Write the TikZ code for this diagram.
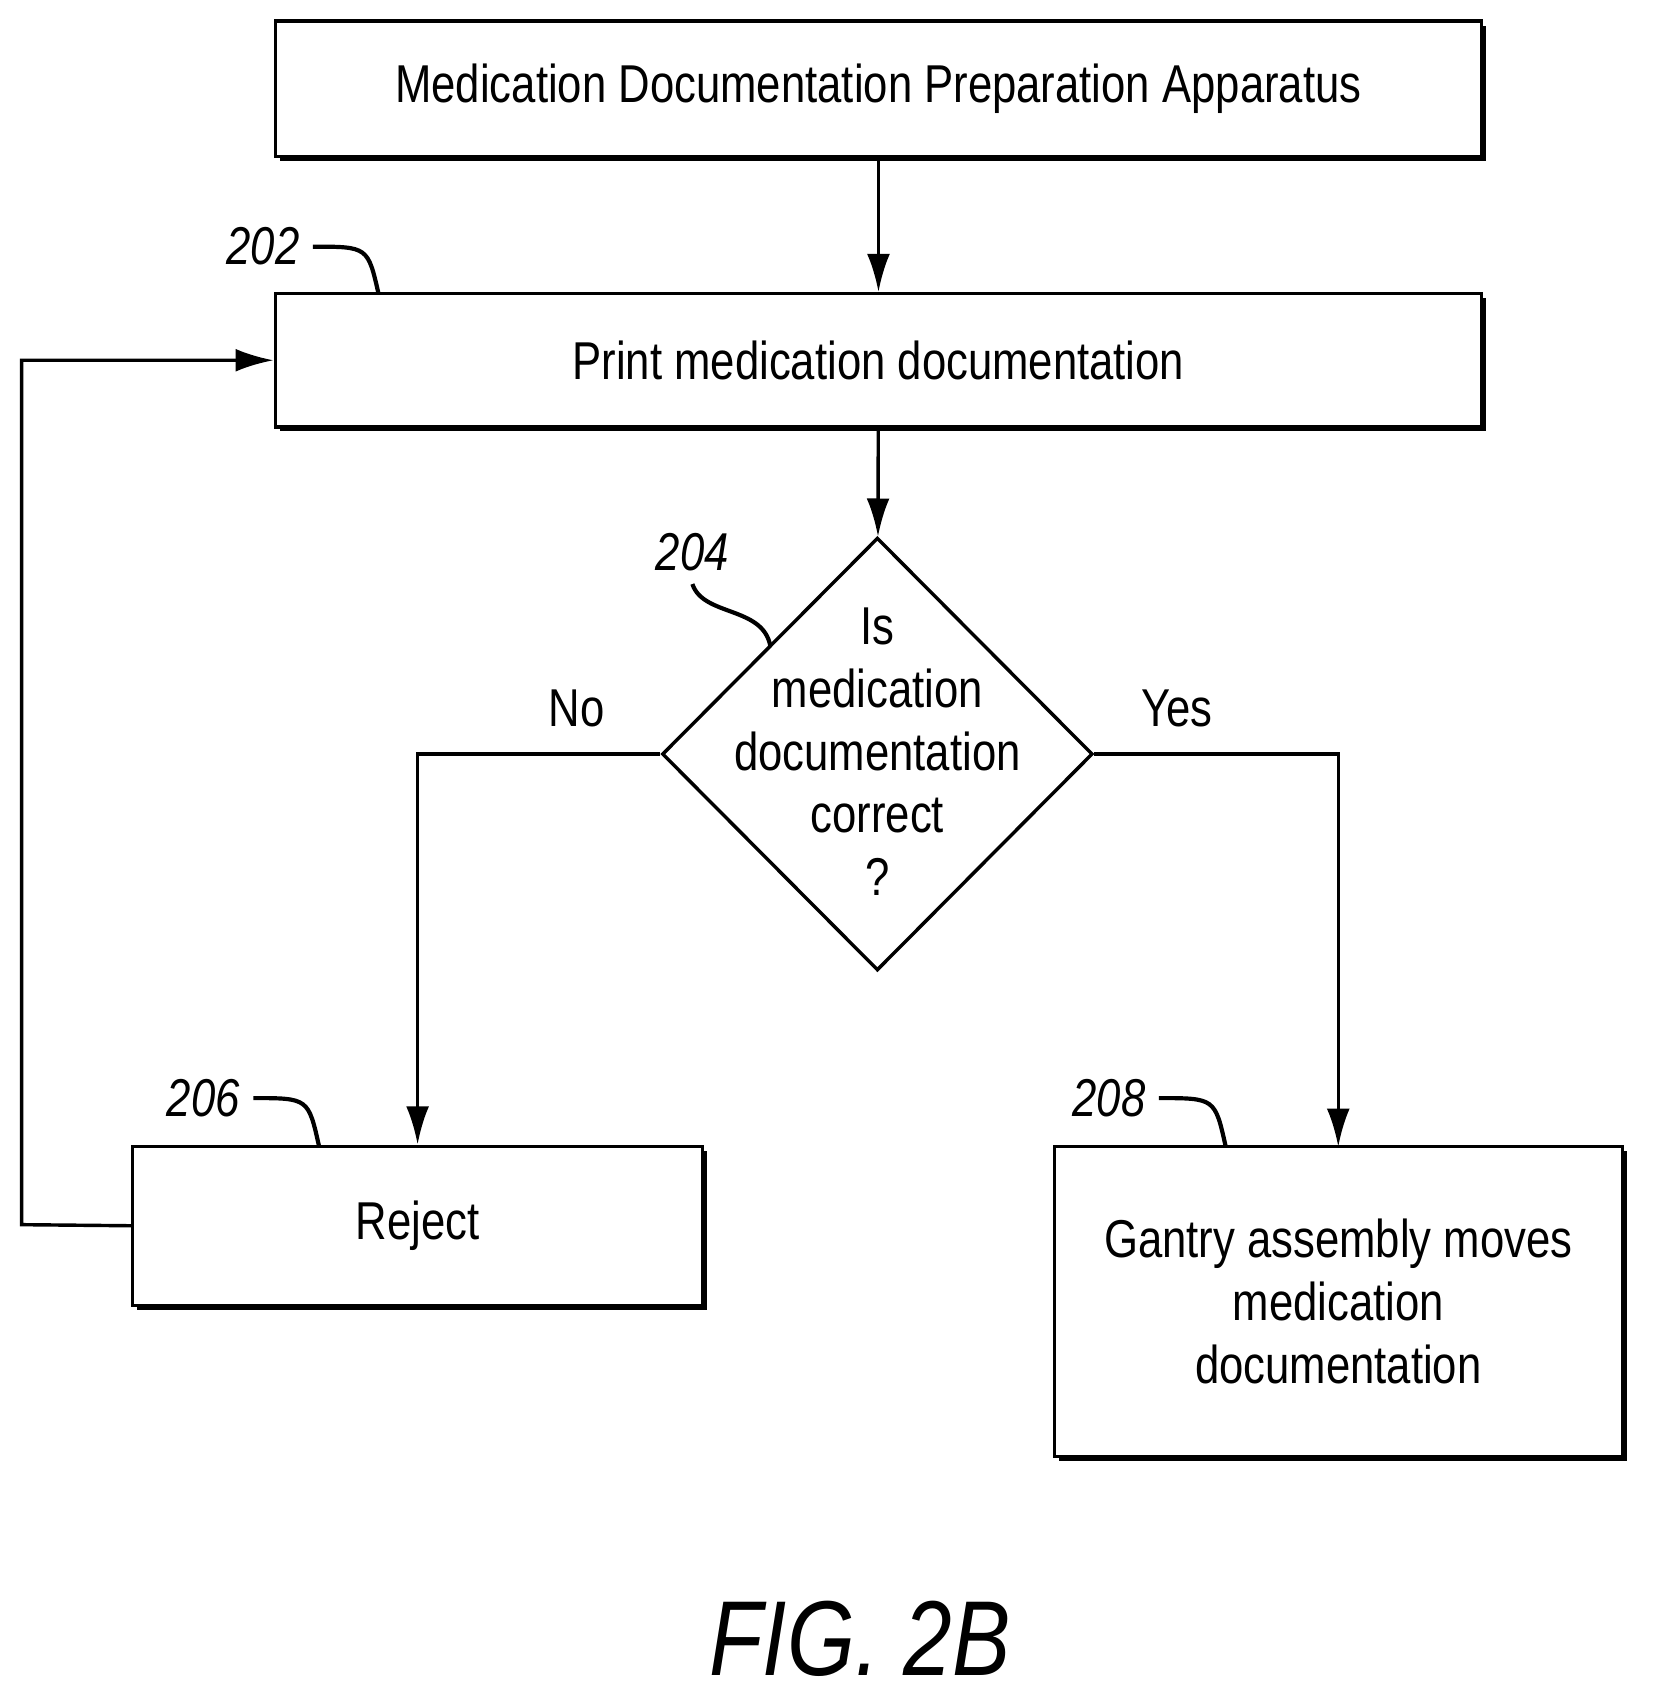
\documentclass[tikz,border=0pt]{standalone}
\usepackage{fontspec}
\setmainfont{Liberation Sans}[FakeStretch=0.82]
\usetikzlibrary{shapes.geometric,arrows.meta,shadows}
\begin{document}
\begin{tikzpicture}
  [x=0.01cm,y=-0.01cm,
   every node/.style={font=\fontsize{14}{16.5}\selectfont},
   box/.style={draw,line width=0.9pt,fill=white,align=center,inner sep=0,
     drop shadow={shadow xshift=1.2pt,shadow yshift=-1.2pt,fill=black,opacity=1}},
   ref/.style={font=\fontsize{14}{16}\selectfont\itshape},
   flow/.style={line width=0.9pt,-{Latex[length=10pt,width=6pt]}},
   lead/.style={line width=1.1pt}]
  \useasboundingbox (0,0) rectangle (1530,1576);

  \node[box,minimum width=1115*0.01cm,minimum height=125*0.01cm] (apparatus) at (812,82) {Medication Documentation Preparation Apparatus};
  \node[box,minimum width=1115*0.01cm,minimum height=123*0.01cm] (print) at (812,333) {Print medication documentation};
  \node[draw,line width=0.9pt,diamond,minimum width=398*0.01cm,minimum height=400*0.01cm,inner sep=0] (check) at (811,697) {};
  \node[align=center] at (811,695) {Is\\medication\\documentation\\correct\\?};
  \node[box,minimum width=527*0.01cm,minimum height=147*0.01cm] (reject) at (386,1133) {Reject};
  \node[box,minimum width=525*0.01cm,minimum height=287*0.01cm] (gantry) at (1237,1203) {Gantry assembly moves\\medication\\documentation};
  \coordinate (loop) at (20,1132);

  \draw[flow] (apparatus) -- (print);
  \draw[flow] (print) -- (check);
  \draw[flow] (check.west) -| (reject.north);
  \draw[flow] (check.east) -| (1237,1060);
  \draw[flow] (reject.west) -- (loop) |- (print.west);
  \node (no) at (533,655) {No};
  \node (yes) at (1088,655) {Yes};

  \node[ref] (n202) at (243,228) {202};
  \node[ref] (n204) at (640,510) {204};
  \node[ref] (n206) at (188,1015) {206};
  \node[ref] (n208) at (1025,1015) {208};
  \draw[lead] (n202.east) .. controls (340,228) .. (350,272);
  \draw[lead] (n204.south) .. controls (650,570) and (705,560) .. (712,597);
  \draw[lead] (n206.east) .. controls (285,1015) .. (295,1060);
  \draw[lead] (n208.east) .. controls (1123,1015) .. (1133,1060);

  \node[font=\fontsize{28}{32}\selectfont\itshape] (caption) at (795,1515) {FIG. 2B};
\end{tikzpicture}
\end{document}
